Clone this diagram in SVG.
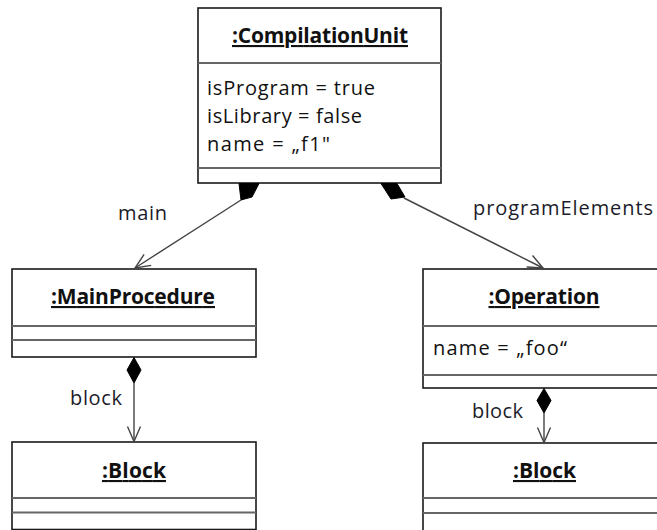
<svg xmlns="http://www.w3.org/2000/svg" width="657" height="530" viewBox="0 0 657 530">
  <defs>
    <style>
      .box { fill: #ffffff; stroke: #1a1a1a; stroke-width: 1.6; }
      .sep { stroke: #666666; stroke-width: 2; }
      .title { font-family: "Open Sans", "Liberation Sans", sans-serif; font-size: 21px; font-weight: bold; fill: #111111; text-anchor: middle; text-decoration: underline; }
      .attr { font-family: "Open Sans", "Liberation Sans", sans-serif; font-size: 20px; fill: #111111; }
      .role { font-family: "Open Sans", "Liberation Sans", sans-serif; font-size: 20px; fill: #1c1c2a; }
      .link { fill: none; stroke: #444444; stroke-width: 1.4; }
      .diamond { fill: #000000; stroke: #000000; stroke-width: 1; stroke-linejoin: round; }
    </style>
    <marker id="open-arrow" markerUnits="userSpaceOnUse" markerWidth="20" markerHeight="18" viewBox="-17 -9 20 18" refX="0" refY="0" orient="auto">
      <path d="M -15 -6.5 L 0 0 L -15 6.5" fill="none" stroke="#444444" stroke-width="1.4"/>
    </marker>
  </defs>

  <!-- object nodes -->
  <g id="compilation-unit">
    <rect class="box" x="198" y="8" width="243" height="175"/>
    <line class="sep" x1="198" y1="63" x2="441" y2="63"/>
    <line class="sep" x1="198" y1="168" x2="441" y2="168"/>
    <text class="title" x="320" y="43" textLength="176" lengthAdjust="spacing">:CompilationUnit</text>
    <text class="attr" x="207" y="95" textLength="168" lengthAdjust="spacing">isProgram = true</text>
    <text class="attr" x="207" y="123" textLength="155" lengthAdjust="spacing">isLibrary = false</text>
    <text class="attr" x="207" y="151" textLength="123" lengthAdjust="spacing">name = „f1"</text>
  </g>

  <g id="main-procedure">
    <rect class="box" x="12" y="269" width="244" height="88"/>
    <line class="sep" x1="12" y1="326" x2="256" y2="326"/>
    <line class="sep" x1="12" y1="340" x2="256" y2="340"/>
    <text class="title" x="133" y="304" textLength="164" lengthAdjust="spacing">:MainProcedure</text>
  </g>

  <g id="operation">
    <rect class="box" x="423" y="269" width="242" height="119"/>
    <line class="sep" x1="423" y1="326" x2="665" y2="326"/>
    <line class="sep" x1="423" y1="375" x2="665" y2="375"/>
    <text class="title" x="544" y="304" textLength="111" lengthAdjust="spacing">:Operation</text>
    <text class="attr" x="433" y="355" textLength="134" lengthAdjust="spacing">name = „foo“</text>
  </g>

  <g id="main-block">
    <rect class="box" x="12" y="442" width="244" height="87.5"/>
    <line class="sep" x1="12" y1="498" x2="256" y2="498"/>
    <line class="sep" x1="12" y1="512.5" x2="256" y2="512.5"/>
    <text class="title" x="134" y="478" textLength="64" lengthAdjust="spacing">:Block</text>
  </g>

  <g id="operation-block">
    <rect class="box" x="423" y="443" width="242" height="95"/>
    <line class="sep" x1="423" y1="498" x2="665" y2="498"/>
    <line class="sep" x1="423" y1="513" x2="665" y2="513"/>
    <text class="title" x="544.5" y="478" textLength="63" lengthAdjust="spacing">:Block</text>
  </g>

  <!-- composition links -->
  <g id="connectors">
    <polygon class="diamond" points="239,183.5 259,183.5 252,197 241,200"/>
    <path class="link" d="M 241 200 L 135 268" marker-end="url(#open-arrow)"/>
    <text class="role" x="118" y="220" textLength="49" lengthAdjust="spacing">main</text>

    <polygon class="diamond" points="381,183.5 397,183.5 405,197 391,199"/>
    <path class="link" d="M 404 198 L 543 268" marker-end="url(#open-arrow)"/>
    <text class="role" x="473" y="215" textLength="180" lengthAdjust="spacing">programElements</text>

    <polygon class="diamond" points="134,357.5 141,370 134,383 127,370"/>
    <path class="link" d="M 134 383 L 134 441.5" marker-end="url(#open-arrow)"/>
    <text class="role" x="70" y="405" textLength="52" lengthAdjust="spacing">block</text>

    <polygon class="diamond" points="544,388.5 551,400.5 544,413 537,400.5"/>
    <path class="link" d="M 544 413 L 544 442.5" marker-end="url(#open-arrow)"/>
    <text class="role" x="472" y="418" textLength="51" lengthAdjust="spacing">block</text>
  </g>
</svg>
